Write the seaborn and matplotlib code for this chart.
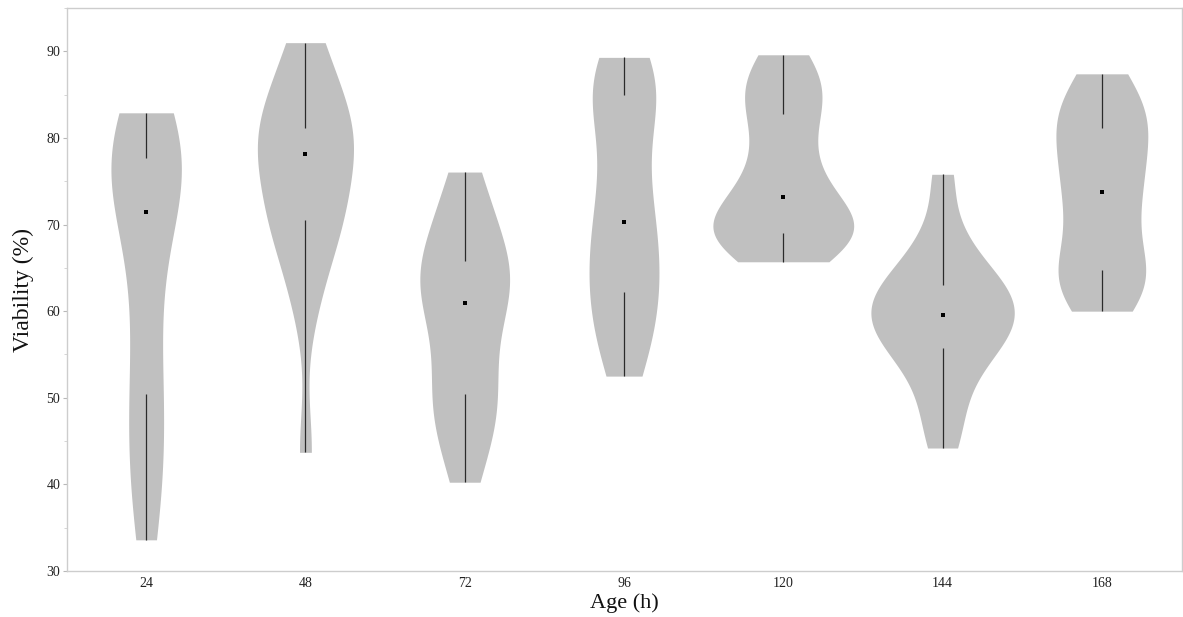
import numpy as np
import pandas as pd
import matplotlib
matplotlib.use("Agg")
import matplotlib.pyplot as plt
from matplotlib.ticker import MultipleLocator
import seaborn as sns

# ---- data (viability %, per age group) ----
ages = ["24", "48", "72", "96", "120", "144", "168"]
v24 = [33.6, 38.8, 43.2, 47.0, 50.4, 55.8, 61.0, 66.5, 71.5, 73.0, 74.6, 76.1, 77.65, 78.9, 80.1, 81.5, 82.9]
v48 = [43.7, 60.3, 65.1, 68.05, 70.5, 71.3, 72.6, 74.6, 78.2, 78.95, 79.7, 80.4, 81.15, 83.5, 85.8, 88.3, 91.0]
v72 = [40.25, 44.3, 47.0, 49.0, 50.4, 53.0, 55.8, 58.5, 60.9, 62.1, 63.3, 64.55, 65.8, 67.75, 69.9, 72.5, 76.06]
v96 = [52.5, 55.55, 58.05, 60.1, 62.2, 64.2, 66.25, 68.3, 70.3, 73.0, 76.0, 79.4, 85.0, 85.3, 85.9, 86.8, 89.3]
v120 = [65.7, 67.6, 68.3, 68.7, 69.0, 69.8, 70.6, 71.6, 73.2, 75.0, 77.2, 79.95, 82.8, 84.3, 85.85, 87.5, 89.6]
v144 = [44.2, 48.0, 51.3, 53.9, 55.8, 56.6, 57.5, 58.5, 59.5, 60.5, 61.4, 62.2, 63.0, 64.4, 66.2, 69.5, 75.8]
v168 = [60.0, 62.0, 63.2, 64.0, 64.7, 67.3, 70.0, 72.2, 73.8, 75.6, 77.45, 79.3, 81.1, 82.2, 83.5, 85.0, 87.4]
groups = [v24, v48, v72, v96, v120, v144, v168]

df = pd.DataFrame({
    "Age": np.repeat(ages, [len(g) for g in groups]),
    "Viability": np.concatenate(groups),
})

plt.rcParams["font.family"] = ["Liberation Serif", "DejaVu Serif"]

fig = plt.figure(figsize=(11.83, 6.17), dpi=100)
ax = fig.add_axes([66.5 / 1183, 46 / 617, (1181.5 - 66.5) / 1183, (571 - 8) / 617])

sns.violinplot(
    data=df, x="Age", y="Viability", order=ages, ax=ax,
    color="#c0c0c0", saturation=1, linewidth=0, inner=None,
    cut=0, density_norm="area", width=0.9, gridsize=400,
    bw_method="scott", bw_adjust=0.8,
)

sns.boxplot(
    data=df, x="Age", y="Viability", order=ages, ax=ax,
    whis=(0, 100), showbox=False, showcaps=False, showfliers=False,
    medianprops={"visible": False},
    whiskerprops={"color": "#2a2a2a", "linewidth": 0.9},
    width=0.9,
)

sns.pointplot(
    data=df, x="Age", y="Viability", order=ages, ax=ax,
    estimator="median", errorbar=None, color="black",
    marker="s", linestyle="none", markersize=2.4, markeredgewidth=0,
    zorder=5,
)

ax.set_xlim(-0.5, 6.5)
ax.set_ylim(30, 95)
ax.set_yticks(range(30, 91, 10))
ax.yaxis.set_minor_locator(MultipleLocator(5))
ax.tick_params(axis="y", which="major", direction="out", length=3, width=0.8,
               color="#b8b8b8", labelsize=10, pad=1.5, labelcolor="#222222", left=True)
ax.tick_params(axis="y", which="minor", direction="out", length=2, width=0.6,
               color="#cfcfcf", left=True)
ax.tick_params(axis="x", length=0, labelsize=10, pad=4, labelcolor="#222222")
for s in ax.spines.values():
    s.set_visible(True)
    s.set_color("#cdcdcd")
    s.set_linewidth(1.0)

ax.set_xlabel("Age (h)", fontsize=16, labelpad=3, color="#111111")
ax.set_ylabel("Viability (%)", fontsize=17, labelpad=9, color="#111111")
ax.grid(False)

fig.savefig("out.png", dpi=100)
